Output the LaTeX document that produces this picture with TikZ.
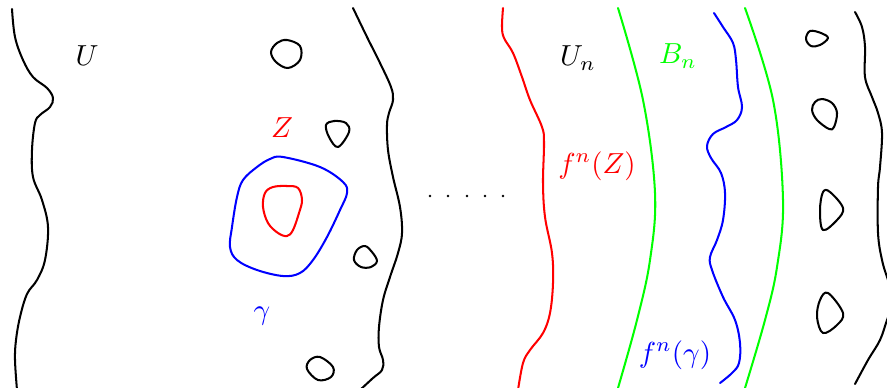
\documentclass[tikz,border=0pt]{standalone}
\begin{document}
\begin{tikzpicture}[x=0.345pt,y=-0.345pt,
  curve/.style={line width=0.7pt, line join=round, line cap=round},
  lbl/.style={inner sep=0pt, font=\normalsize},
  hole/.style={curve, black}]
\useasboundingbox (0,0) rectangle (887,387);
\clip (0,0) rectangle (887,387);
% left boundary
\draw[curve] plot[smooth, tension=0.6] coordinates {(12,9) (15,37) (23,60) (33,77) (47,88) (53,98) (50,107) (40,115) (35,123) (32,150) (33,177) (42,200) (48,227) (45,260) (37,280) (27,294) (20,317) (16,340) (15,360) (17,390)};
% middle-left boundary
\draw[curve] plot[smooth, tension=0.6] coordinates {(353,8) (367,37) (380,63) (391,87) (393,100) (389,113) (387,125) (388,150) (393,177) (400,207) (402,233) (398,253) (390,277) (383,300) (379,327) (379,347) (383,360) (382,370) (373,378) (360,390)};
% holes left
\draw[hole] plot[smooth cycle, tension=0.6] coordinates {(287,40) (300,46) (300,60) (288,68) (276,62) (271,52) (277,43)};
\draw[hole] plot[smooth cycle, tension=0.6] coordinates {(326,125) (334,121) (346,123) (349,132) (338,147) (329,137)};
\draw[hole] plot[smooth cycle, tension=0.6] coordinates {(365,246) (372,252) (377,261) (371,267) (361,267) (354,260) (357,250)};
\draw[hole] plot[smooth cycle, tension=0.6] coordinates {(320,357) (333,367) (331,377) (318,380) (307,369) (310,360)};
% gamma and Z
\draw[curve, blue] plot[smooth cycle, tension=0.6] coordinates {(283,157) (320,167) (343,182) (347,193) (340,210) (327,237) (313,260) (300,273) (283,276) (257,270) (237,260) (230,247) (232,227) (237,197) (243,180) (257,167) (270,159)};
\draw[curve, red] plot[smooth cycle, tension=0.6] coordinates {(287,186) (298,188) (302,200) (299,213) (293,230) (287,236) (278,233) (268,223) (263,207) (265,193) (273,187)};
% dots
\foreach \xx in {430,448,467,485,503} \fill (\xx,196) circle (0.45pt);
% red f^n(Z)
\draw[curve, red] plot[smooth, tension=0.6] coordinates {(503,8) (502,27) (504,38) (513,53) (522,77) (530,100) (542,127) (544,143) (543,183) (545,217) (552,253) (553,283) (550,313) (543,333) (530,350) (523,363) (518,390)};
% green B_n
\draw[curve, green] plot[smooth, tension=0.6] coordinates {(618,8) (643,100) (655,193) (650,260) (637,320) (618,388)};
\draw[curve, green] plot[smooth, tension=0.6] coordinates {(745,8) (773,100) (783,200) (777,267) (765,320) (745,388)};
% blue f^n(gamma)
\draw[curve, blue] plot[smooth, tension=0.6] coordinates {(714,13) (723,27) (733,43) (736,60) (738,87) (742,107) (737,120) (726,127) (713,134) (707,146) (711,158) (721,173) (725,193) (723,220) (717,240) (710,257) (712,270) (723,297) (735,320) (740,343) (739,363) (732,373) (720,383)};
% right boundary
\draw[curve] plot[smooth, tension=0.6] coordinates {(855,12) (862,27) (865,47) (865,77) (872,97) (878,113) (882,133) (880,167) (878,187) (878,233) (882,260) (888,280) (892,290)};
\draw[curve] plot[smooth, tension=0.6] coordinates {(893,305) (887,320) (880,340) (868,360) (855,384)};
% holes right
\draw[hole] plot[smooth cycle, tension=0.6] coordinates {(810,31) (821,33) (828,38) (820,45) (811,46) (806,39)};
\draw[hole] plot[smooth cycle, tension=0.6] coordinates {(822,99) (832,103) (837,113) (834,127) (829,129) (817,120) (812,110) (815,102)};
\draw[hole] plot[smooth cycle, tension=0.6] coordinates {(823,192) (830,192) (843,208) (837,220) (823,230) (820,210)};
\draw[hole] plot[smooth cycle, tension=0.6] coordinates {(828,293) (843,313) (837,325) (823,333) (817,317) (820,300)};
% labels
\node[lbl] (U) at (87,56) {$U$};
\node[lbl, red] (Z) at (282,128) {$Z$};
\node[lbl, blue] (g) at (262,316) {$\gamma$};
\node[lbl] (Un) at (578,58) {$U_n$};
\node[lbl, green] (Bn) at (678,56) {$B_n$};
\node[lbl, red] (fZ) at (597,166) {$f^n(Z)$};
\node[lbl, blue] (fg) at (675,355) {$f^n(\gamma)$};
\end{tikzpicture}
\end{document}
